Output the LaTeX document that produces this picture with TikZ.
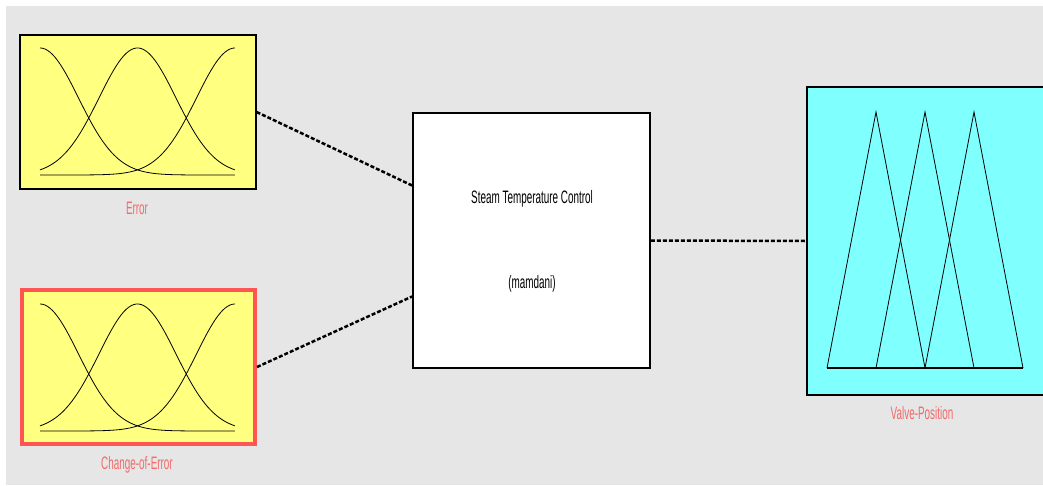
\documentclass[tikz,border=0pt]{standalone}
\usepackage{graphicx}
\usepackage{fontspec}
\setmainfont{Liberation Sans}
\usepackage{tikz}
\usetikzlibrary{arrows.meta}

\definecolor{panelgrey}{HTML}{E6E6E6}
\definecolor{mfyellow}{HTML}{FFFF80}
\definecolor{mfcyan}{HTML}{80FFFF}
\definecolor{selred}{HTML}{FF5555}
\definecolor{lblred}{HTML}{F26A6A}
\newcommand{\narrowtext}[1]{\scalebox{0.55}[1]{#1}}

\begin{document}
\begin{tikzpicture}[x=1pt,y=-1pt]
  \tikzset{varbox/.style = {shape=rectangle,draw,line width=1.2pt,inner sep=0pt,minimum width=236pt,minimum height=154pt}}
  \tikzset{varlabel/.style = {text=lblred,inner sep=0pt,font=\fontsize{18}{20}\selectfont}}
  \tikzset{fistext/.style = {text=black,inner sep=0pt,font=\fontsize{18}{20}\selectfont}}
  \tikzset{link/.style = {line width=2.5pt,dash pattern=on 4pt off 2pt}}

  \useasboundingbox (0,0) rectangle (1043,485);
  \fill[white] (0,0) rectangle (1043,485);
  \fill[panelgrey] (6,6) rectangle (1043,485);

	\node[varbox,fill=mfyellow] (Err) at (138,112) {};
	\node[varbox,fill=mfyellow,draw=selred,line width=4pt,minimum width=233pt,minimum height=154pt] (dErr) at (138.5,367) {};

	\node[varbox,fill=white,line width=1.8pt,minimum width=237pt,minimum height=255pt] (FIS) at (531.5,240.5) {};

	\begin{scope}
	  \clip (0,0) rectangle (1043,485);
	  \node[varbox,fill=mfcyan,minimum width=240pt,minimum height=308pt] (Valve) at (927,241) {};
	\end{scope}

	% gaussian membership functions
	\foreach \by in {175,431}
	  \foreach \c in {0,0.5,1}
	    \draw[line width=0.8pt] plot[domain=0:1,samples=80,smooth] ({40+195*\x},{\by-127*exp(-((\x-\c)^2)/0.078)});

	% triangular membership functions
	\draw[line width=1.2pt] (827,368) -- (1023,368);
	\foreach \a/\b/\c in {827/876/925, 876/925/974, 925/974/1023}
	  \draw[line width=0.8pt] (\a,368) -- (\b,112) -- (\c,368);

	\node[varlabel] (ErrLbl) at (137,208) {\narrowtext{Error}};
	\node[varlabel] (dErrLbl) at (137,465) {\narrowtext{Change-of-Error}};
	\node[varlabel] (ValveLbl) at (922,413) {\narrowtext{Valve-Position}};
	\node[fistext] (FISName) at (532,199) {\narrowtext{Steam Temperature Control}};
	\node[fistext] (FISType) at (532,284) {\narrowtext{(mamdani)}};

	\draw[link] (Err.east) -- ([yshift=55pt]FIS.west);
	\draw[link] (dErr.east) -- ([yshift=-56pt]FIS.west);
	\draw[link] (FIS.east) -- (Valve.west);
\end{tikzpicture}
\end{document}
